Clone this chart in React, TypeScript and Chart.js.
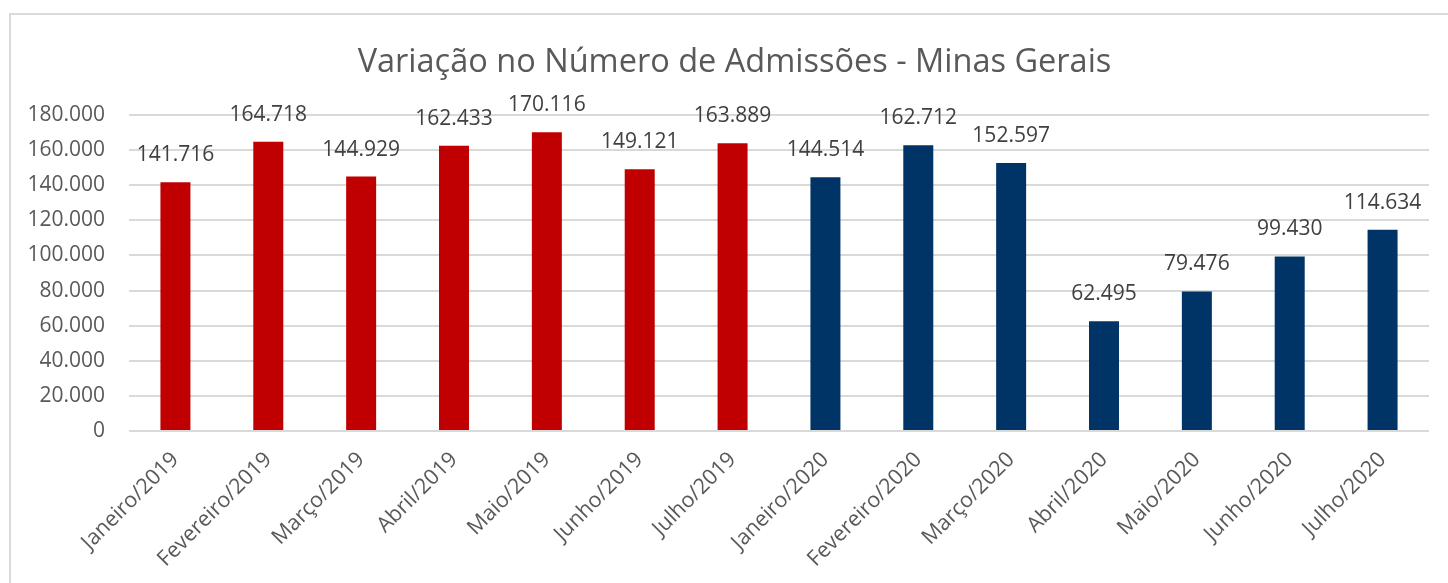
import React, { useEffect, useRef } from "react";
import { Chart, registerables } from "chart.js";

Chart.register(...registerables);

const categories = [
  "Janeiro/2019", "Fevereiro/2019", "Março/2019", "Abril/2019", "Maio/2019", "Junho/2019", "Julho/2019",
  "Janeiro/2020", "Fevereiro/2020", "Março/2020", "Abril/2020", "Maio/2020", "Junho/2020", "Julho/2020",
];
const admissions = [
  141716, 164718, 144929, 162433, 170116, 149121, 163889,
  144514, 162712, 152597, 62495, 79476, 99430, 114634,
];
const barColors = [
  "#C00000", "#C00000", "#C00000", "#C00000", "#C00000", "#C00000", "#C00000",
  "#003366", "#003366", "#003366", "#003366", "#003366", "#003366", "#003366",
];
const titleText = "Variação no Número de Admissões - Minas Gerais";
const yMin = 0;
const yMax = 180000;
const yStep = 20000;

const FONT = "'Open Sans', 'Noto Sans', sans-serif";

function fmt(v: number): string {
  const s = Math.round(v).toString();
  return s.replace(/\B(?=(\d{3})+(?!\d))/g, ".");
}

const labelPlugin = {
  id: "barLabels",
  afterLayout(chart: any) {
    if (chart.titleBlock) {
      chart.titleBlock.left += 40;
    }
  },
  afterDatasetsDraw(chart: any) {
    const ctx = chart.ctx;
    const meta = chart.getDatasetMeta(0);
    ctx.save();
    ctx.font = `21px ${FONT}`;
    ctx.fillStyle = "#404040";
    ctx.textAlign = "center";
    ctx.textBaseline = "middle";
    meta.data.forEach((bar: any, i: number) => {
      ctx.fillText(fmt(admissions[i]), bar.x, bar.y - 27);
    });
    ctx.restore();
  },
};

export default function App() {
  const ref = useRef<HTMLCanvasElement | null>(null);
  useEffect(() => {
    document.body.style.margin = "0";
    if (!ref.current) return;
    const chart = new Chart(ref.current, {
      type: "bar",
      data: {
        labels: categories,
        datasets: [
          {
            data: admissions,
            backgroundColor: barColors,
            borderWidth: 0,
            barPercentage: 0.323,
            categoryPercentage: 1,
          },
        ],
      },
      options: {
        responsive: false,
        animation: false,
        layout: { padding: { left: 0, right: 19, top: 0, bottom: 0 } },
        plugins: {
          legend: { display: false },
          tooltip: { enabled: false },
          title: {
            display: true,
            text: titleText,
            color: "#595959",
            font: { family: FONT, size: 32.5, weight: "normal", lineHeight: 1.2 },
            padding: { top: 43, bottom: 33 },
          },
        },
        scales: {
          x: {
            grid: { display: false, drawTicks: false },
            border: { display: false },
            ticks: {
              color: "#595959",
              font: { family: FONT, size: 21.5 },
              maxRotation: 45,
              minRotation: 45,
              padding: 16,
              autoSkip: false,
            },
            afterFit: (scale: any) => {
              scale.height = 152;
            },
          },
          y: {
            min: yMin,
            max: yMax,
            grid: { color: "#D9D9D9", lineWidth: 2, drawTicks: false },
            border: { display: false },
            ticks: {
              stepSize: yStep,
              color: "#595959",
              font: { family: FONT, size: 21 },
              padding: 24,
              callback: (v: any) => fmt(Number(v)),
            },
            afterFit: (scale: any) => {
              scale.width = 129;
            },
          },
        },
      },
      plugins: [labelPlugin],
    });
    return () => chart.destroy();
  }, []);
  return (
    <div style={{ position: "fixed", left: 0, top: 0, width: 1448, height: 583, background: "#fff" }}>
      <div
        style={{
          position: "absolute",
          left: 9,
          top: 13,
          width: 1448 - 9,
          height: 583 - 13,
          borderLeft: "2px solid #D9D9D9",
          borderTop: "2px solid #D9D9D9",
          boxSizing: "border-box",
        }}
      />
      <canvas ref={ref} width={1448} height={583} style={{ position: "absolute", left: 0, top: 0, display: "block" }} />
    </div>
  );
}
